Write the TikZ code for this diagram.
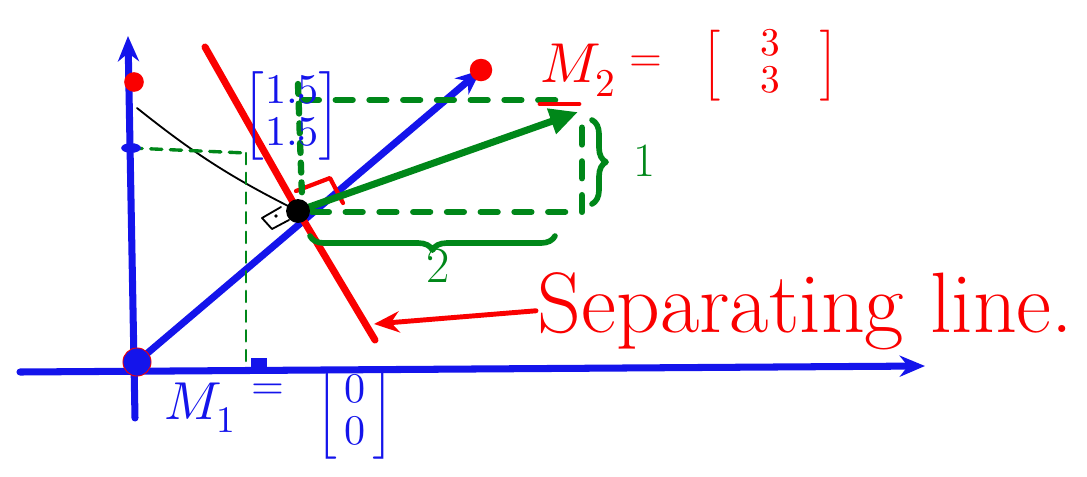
\documentclass[tikz,border=0pt]{standalone}
\usepackage{amsmath, amssymb}
\usepackage{unicode-math}
\usepackage{xcolor}
\usepackage{tikz}
\usetikzlibrary{arrows.meta, positioning, shapes.geometric, decorations.pathreplacing}
\definecolor{penblue}{RGB}{20,20,235}
\definecolor{penred}{RGB}{250,0,0}
\definecolor{pengreen}{RGB}{0,135,25}

\begin{document}
\begin{tikzpicture}[x=0.025cm,y=-0.025cm,line cap=round,line join=round,
    pen/.style={line width=5pt},
    dot/.style={circle,fill,inner sep=0pt,minimum size=#1},
    tip/.style={-{Stealth[length=18pt,width=15pt]}},
    gdash/.style={pengreen,line width=4.5pt,dash pattern=on 12pt off 12pt},
    gthin/.style={pengreen,line width=1.6pt,dash pattern=on 8pt off 6pt},
    brc/.style={decorate,decoration={brace,amplitude=10pt},pengreen,line width=4pt},
    lbl/.style={inner sep=1pt,font=\fontsize{#1}{#1}\selectfont}]
  \useasboundingbox (0,0) rectangle (1087,476);

  \coordinate (O) at (137,362);
  \coordinate (P) at (298,211);
  \coordinate (xs) at (20,372);
  \coordinate (xe) at (925,366);
  \coordinate (ys) at (135,418);
  \coordinate (ye) at (128,36);
  \coordinate (D) at (481,70);
  \coordinate (Y) at (134,82);
  \coordinate (Yb) at (137,108);
  \coordinate (S1) at (205,47);
  \coordinate (S2) at (375,340);
  \coordinate (S3) at (374,324);
  \coordinate (G) at (578,112);
  \coordinate (Q) at (582,212);
  \coordinate (Qt) at (582,122);
  \coordinate (Pb) at (312,212);
  \coordinate (V) at (298,84);
  \coordinate (Vb) at (302,196);
  \coordinate (T) at (302,100);
  \coordinate (Tr) at (556,100);
  \coordinate (Ym) at (131,148);
  \coordinate (Xm) at (246,153);
  \coordinate (Xb) at (246,366);

  \draw[penblue,pen,tip] (xs) -- (xe);
  \draw[penblue,pen,tip] (ys) -- (ye);
  \draw[penblue,pen,tip] (O) -- (D);
  \draw[penred,pen] (S1) -- (P) -- (S2);
  \draw[penred,line width=3pt] (296,191) -- (330,178) -- (343,203);
  \draw[black,line width=1.3pt] (Yb) to[bend right=6] (P);
  \draw[black,line width=1.3pt] (281,207) -- (262,218) -- (272,229) -- (289,220);
  \fill (276,216) circle (1.3pt);

  \draw[gthin,line width=2.4pt] (Ym) -- (Xm);
  \draw[gthin] (Xm) -- (Xb);
  \draw[gdash,dash pattern=on 7pt off 7pt] (V) -- (Vb);
  \draw[gdash] (T) -- (Tr);
  \draw[gdash] (Pb) -- (Q) -- (Qt);
  \draw[pengreen,pen,-{Triangle[length=20pt,width=18pt]}] (P) -- (G);
  \draw[penred,line width=3.5pt] (540,104) -- (579,104);
  \draw[brc] (592,120) -- (592,204);
  \draw[brc] (555,236) -- (310,236);

  \node[dot=14pt,penred] (ydot) at (Y) {};
  \node[dot=16pt,penred] (ddot) at (D) {};
  \node[dot=20pt,penblue,draw=penred,line width=0.6pt] (odot) at (O) {};
  \node[dot=17pt,black] (pdot) at (P) {};
  \node[ellipse,fill=penblue,inner sep=0pt,minimum width=14pt,minimum height=7pt] (ytick) at (Ym) {};
  \node[fill=penblue,inner sep=0pt,minimum width=11pt,minimum height=9pt] (xtick) at (259,364) {};

  \node[lbl=34,pengreen] (one) at (644,161) {1};
  \node[lbl=36,pengreen] (two) at (438,266) {2};
  \node[lbl=30,penblue] (vec) at (292,116) {$\begin{bmatrix}1.5\\1.5\end{bmatrix}$};
  \node[lbl=38,penblue] (m1) at (200,408) {$M_1$};
  \node[lbl=30,penblue] (m1eq) at (268,392) {$=$};
  \node[lbl=30,penblue] (m1vec) at (355,415) {$\begin{bmatrix}\,0\,\\\,0\,\end{bmatrix}$};
  \node[lbl=40,penred] (m2) at (578,70) {$M_2$};
  \node[lbl=30,penred] (m2eq) at (646,64) {$=$};
  \node[lbl=28,penred] (m2vec) at (770,66) {\renewcommand{\arraystretch}{0.9}$\begin{bmatrix}\quad3\quad\\\quad3\quad\end{bmatrix}$};
  \node[lbl=61,penred,anchor=base west] (sep) at (536,332) {Separating line.};
  \draw[penred,line width=3.5pt,tip] (sep.west) -- (S3);
\end{tikzpicture}
\end{document}
